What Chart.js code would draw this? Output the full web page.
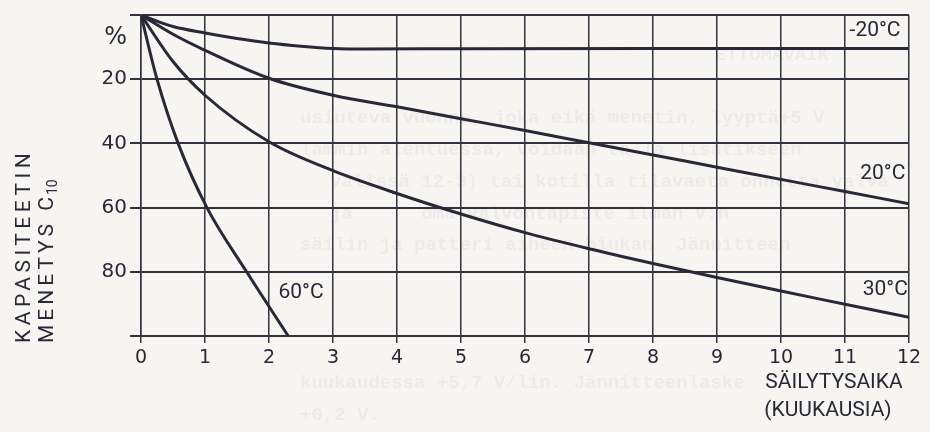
<!DOCTYPE html>
<html>
<head>
<meta charset="utf-8">
<script src="https://cdn.jsdelivr.net/npm/chart.js@4.4.1/dist/chart.umd.min.js"></script>
<style>
  html, body { margin: 0; padding: 0; background: #f7f5f2; }
</style>
</head>
<body>
<canvas id="lossChart" width="930" height="432"></canvas>
<script>
// months (x) and capacity loss in % (y)
const monthsMinus20 = [0, 0.5, 1, 1.5, 2, 2.5, 3, 3.5, 5, 8, 12];
const lossMinus20 = [0, 3.6, 5.6, 7.3, 8.7, 9.7, 10.4, 10.6, 10.5, 10.4, 10.4];

const months20 = [0, 0.5, 1, 2, 3, 4, 5, 6, 7, 8, 9, 10, 11, 12];
const loss20 = [0, 6, 11, 19.7, 25, 28.6, 32.3, 36, 39.8, 43.6, 47.4, 51.2, 55, 58.8];

const months30 = [0, 0.5, 1, 2, 3, 4, 5, 6, 7, 8, 9, 10, 11, 12];
const loss30 = [0, 14.5, 25, 39.5, 48.5, 55.6, 62, 67.8, 72.8, 77.4, 81.8, 86, 90.1, 94.2];

const months60 = [0, 0.25, 0.58, 1.03, 1.65, 2.3];
const loss60 = [0, 20, 40, 60, 80, 100];

const seriesNames = ['-20°C', '20°C', '30°C', '60°C'];
const xTicks = [0, 1, 2, 3, 4, 5, 6, 7, 8, 9, 10, 11, 12];
const yTicks = [0, 7, 20, 40, 60, 80, 100];
const yTickLabels = ['', '%', '20', '40', '60', '80', ''];

const ink = '#2a2836';
const gridInk = '#34323e';
const numFont = 'DejaVu Sans';
const textFont = 'Roboto';

function pts(xs, ys) {
    return xs.map((x, i) => ({ x: x, y: ys[i] }));
}

// where the temperature names sit (data coordinates)
const curveLabels = [
    { text: seriesNames[0], x: 11.47, y: 5.0 },
    { text: seriesNames[1], x: 11.59, y: 49.5 },
    { text: seriesNames[2], x: 11.63, y: 85.7 },
    { text: seriesNames[3], x: 2.5, y: 86.6 }
];

// very faint show-through of the typewritten text on the back of the page
const ghostLines = [
    { text: 'ETTOMAVAIK', x: 715, y: 55 },
    { text: 'usiuteva vuonna, joka eikä menetin, lyyptä+5 V', x: 300, y: 118 },
    { text: 'lämmin alentuessa, voidaan tällä lisätikseen', x: 300, y: 150 },
    { text: 'välissä 12-3) tai kotilla tilavaeta onnetta valva', x: 330, y: 182 },
    { text: 'ja      oma valvontapiste ilman V:n', x: 330, y: 214 },
    { text: 'säilin ja patteri aiheen hiukan  Jännitteen', x: 300, y: 245 },
    { text: 'kuukaudessa +5,7 V/lin. Jännitteenlaske', x: 300, y: 383 },
    { text: '+0,2 V.', x: 300, y: 415 }
];

const paperPlugin = {
    id: 'paper',
    beforeDraw(chart) {
        const c = chart.ctx;
        c.save();
        c.fillStyle = '#f7f5f2';
        c.fillRect(0, 0, chart.width, chart.height);
        c.fillStyle = 'rgba(80, 80, 90, 0.055)';
        c.font = 'bold 19px "Liberation Mono"';
        c.textBaseline = 'middle';
        ghostLines.forEach(g => c.fillText(g.text, g.x, g.y));
        c.restore();
    },
    afterDraw(chart) {
        const c = chart.ctx;
        const xs = chart.scales.x;
        const ys = chart.scales.y;
        c.save();
        c.fillStyle = ink;
        c.textBaseline = 'middle';
        c.textAlign = 'center';

        c.font = '21px "' + textFont + '"';
        curveLabels.forEach(l => {
            c.fillText(l.text, xs.getPixelForValue(l.x), ys.getPixelForValue(l.y));
        });

        // x axis title, right hand side under the ticks
        c.font = '21px "' + textFont + '"';
        const tx = xs.getPixelForValue(10.5);
        c.fillText('SÄILYTYSAIKA', tx + 21, 383);
        c.fillText('(KUUKAUSIA)', tx + 15, 411);

        // y axis title, rotated, two lines
        c.translate(0, ys.bottom + 7);
        c.rotate(-Math.PI / 2);
        c.textAlign = 'left';
        c.font = '21px "' + textFont + '"';
        c.letterSpacing = '4.5px';
        c.fillText('KAPASITEETIN', 0, 25);
        c.letterSpacing = '4px';
        const head = 'MENETYS C';
        c.fillText(head, 0, 48);
        const w = c.measureText(head).width;
        c.letterSpacing = '0px';
        c.font = '14px "' + textFont + '"';
        c.fillText('10', w - 2, 53);
        c.restore();
    }
};

const ctx = document.getElementById('lossChart').getContext('2d');
new Chart(ctx, {
    type: 'line',
    data: {
        datasets: [
            { label: seriesNames[0], data: pts(monthsMinus20, lossMinus20) },
            { label: seriesNames[1], data: pts(months20, loss20) },
            { label: seriesNames[2], data: pts(months30, loss30) },
            { label: seriesNames[3], data: pts(months60, loss60) }
        ].map(d => Object.assign(d, {
            borderColor: ink,
            borderWidth: 3,
            pointRadius: 0,
            fill: false,
            cubicInterpolationMode: 'monotone'
        }))
    },
    options: {
        responsive: false,
        animation: false,
        layout: { padding: { top: 15, right: 21, left: 0, bottom: 0 } },
        plugins: {
            legend: { display: false },
            tooltip: { enabled: false }
        },
        scales: {
            x: {
                type: 'linear',
                min: 0,
                max: 12,
                afterBuildTicks: function (scale) {
                    scale.ticks = xTicks.map(v => ({ value: v }));
                },
                afterFit: function (scale) {
                    scale.height = 96;
                },
                ticks: {
                    color: ink,
                    padding: 4,
                    maxRotation: 0,
                    font: { family: numFont, size: 19 }
                },
                grid: {
                    color: gridInk,
                    lineWidth: 1.5,
                    tickLength: 7
                },
                border: { color: gridInk, width: 2 }
            },
            y: {
                min: 0,
                max: 100,
                reverse: true,
                afterBuildTicks: function (scale) {
                    scale.ticks = yTicks.map(v => ({ value: v }));
                },
                afterFit: function (scale) {
                    scale.width = 141;
                },
                ticks: {
                    color: ink,
                    padding: 3,
                    font: function (context) {
                        const isPct = context.tick && context.tick.value === 7;
                        return { family: numFont, size: isPct ? 24 : 20 };
                    },
                    callback: function (value) {
                        return yTickLabels[yTicks.indexOf(value)];
                    }
                },
                grid: {
                    color: function (context) {
                        return context.tick && context.tick.value === 7 ? 'rgba(0,0,0,0)' : gridInk;
                    },
                    lineWidth: 2,
                    tickLength: 11
                },
                border: { color: gridInk, width: 1.5 }
            }
        }
    },
    plugins: [paperPlugin]
});
</script>
</body>
</html>
